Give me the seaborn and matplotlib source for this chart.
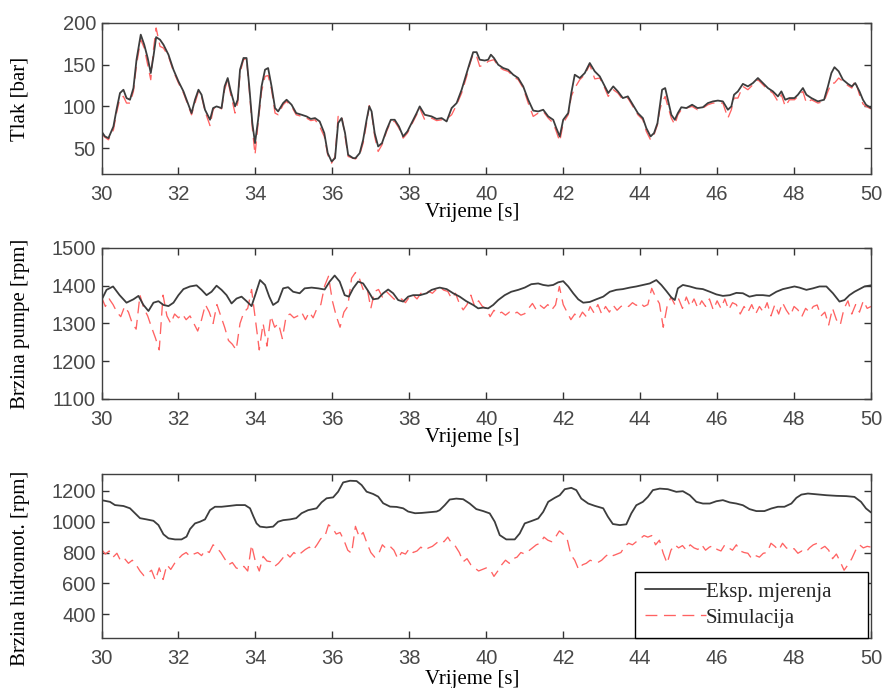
import pandas as pd
import seaborn as sns
import matplotlib.pyplot as plt

# MATLAB-like look: white background, boxed axes, inward ticks
sns.set_style('white')
plt.rcParams['font.family'] = ['Liberation Sans', 'DejaVu Sans']

# ---- Tlak (pressure) ----
exp_p_t = [30.0, 30.09, 30.18, 30.31, 30.39, 30.48, 30.57, 30.65, 30.74, 30.83, 30.91, 31.02, 31.11, 31.2,
           31.28, 31.35, 31.42, 31.52, 31.61, 31.74, 31.87, 32.0, 32.13, 32.26, 32.34, 32.43, 32.52, 32.6,
           32.69, 32.82, 32.9, 32.99, 33.12, 33.2, 33.28, 33.36, 33.47, 33.54, 33.6, 33.69, 33.77, 33.84,
           33.92, 33.99, 34.07, 34.16, 34.25, 34.33, 34.42, 34.51, 34.59, 34.72, 34.81, 34.94, 35.06, 35.2,
           35.33, 35.44, 35.55, 35.67, 35.79, 35.88, 35.98, 36.07, 36.15, 36.24, 36.33, 36.41, 36.54, 36.6,
           36.71, 36.8, 36.89, 36.96, 37.02, 37.1, 37.19, 37.29, 37.41, 37.52, 37.62, 37.73, 37.84, 37.95,
           38.06, 38.19, 38.27, 38.4, 38.58, 38.71, 38.84, 38.97, 39.1, 39.23, 39.36, 39.49, 39.57, 39.66,
           39.75, 39.83, 39.96, 40.05, 40.12, 40.2, 40.31, 40.44, 40.57, 40.7, 40.83, 40.96, 41.09, 41.22,
           41.35, 41.48, 41.61, 41.74, 41.82, 41.91, 42.0, 42.13, 42.21, 42.3, 42.43, 42.56, 42.69, 42.82,
           42.95, 43.06, 43.17, 43.3, 43.42, 43.55, 43.68, 43.81, 43.94, 44.07, 44.16, 44.27, 44.36, 44.45,
           44.51, 44.57, 44.65, 44.72, 44.81, 44.9, 44.98, 45.07, 45.2, 45.35, 45.49, 45.63, 45.76, 45.89,
           46.02, 46.15, 46.28, 46.37, 46.44, 46.54, 46.67, 46.8, 46.93, 47.06, 47.19, 47.32, 47.45, 47.58,
           47.67, 47.77, 47.88, 48.01, 48.1, 48.23, 48.32, 48.45, 48.62, 48.78, 48.88, 48.97, 49.05, 49.16,
           49.27, 49.4, 49.5, 49.59, 49.7, 49.79, 49.87, 50.0]
exp_p = [70, 64, 62, 76, 96, 116, 120, 110, 108, 122, 156, 186, 174, 158,
         140, 160, 183, 180, 174, 162, 144, 130, 118, 102, 92, 108, 120, 114,
         96, 84, 98, 100, 98, 124, 134, 118, 100, 108, 144, 158, 158, 124,
         80, 56, 84, 124, 144, 146, 124, 98, 94, 104, 108, 102, 92, 90,
         88, 85, 86, 82, 68, 44, 34, 38, 80, 86, 68, 42, 38, 38,
         44, 60, 84, 100, 94, 68, 52, 56, 72, 84, 84, 76, 64, 70,
         80, 92, 100, 90, 88, 85, 86, 82, 98, 104, 120, 140, 152, 165,
         165, 156, 155, 156, 162, 158, 150, 146, 144, 138, 134, 124, 108, 95,
         94, 96, 88, 84, 74, 64, 84, 92, 116, 138, 134, 140, 152, 142,
         136, 126, 116, 124, 118, 110, 112, 102, 92, 86, 74, 64, 68, 80,
         100, 120, 122, 108, 90, 84, 92, 99, 98, 102, 98, 99, 104, 106,
         107, 106, 96, 100, 114, 118, 127, 124, 128, 134, 128, 122, 118, 112,
         118, 108, 110, 110, 114, 122, 114, 110, 106, 108, 124, 140, 147, 142,
         132, 127, 124, 128, 118, 108, 102, 98]
sim_p = [67, 63, 60, 72, 92, 110, 112, 104, 104, 118, 150, 180, 170, 150,
         132, 168, 194, 172, 170, 160, 142, 128, 116, 100, 90, 104, 118, 112,
         94, 77, 96, 101, 97, 120, 132, 114, 92, 104, 140, 156, 157, 120,
         74, 42, 80, 118, 136, 137, 120, 92, 90, 102, 106, 100, 90, 88,
         86, 83, 84, 76, 64, 42, 32, 40, 88, 90, 64, 40, 38, 37,
         42, 56, 80, 101, 92, 64, 46, 54, 70, 82, 82, 74, 62, 68,
         78, 90, 98, 84, 86, 83, 84, 85, 90, 102, 116, 136, 150, 163,
         160, 148, 150, 154, 155, 156, 148, 144, 142, 136, 132, 122, 104, 88,
         92, 94, 86, 80, 70, 58, 80, 90, 112, 122, 132, 138, 150, 133,
         134, 124, 112, 120, 116, 108, 110, 100, 90, 84, 70, 60, 66, 78,
         96, 105, 112, 100, 86, 78, 90, 96, 98, 100, 96, 98, 102, 104,
         104, 104, 86, 96, 110, 110, 124, 120, 126, 132, 126, 120, 116, 106,
         114, 100, 108, 108, 112, 118, 104, 108, 104, 106, 118, 128, 128, 134,
         130, 125, 122, 131, 114, 103, 100, 97]

# ---- Brzina pumpe (pump speed) ----
exp_n_t = [30.0, 30.13, 30.3, 30.47, 30.65, 30.83, 30.96, 31.09, 31.22, 31.35, 31.48, 31.61, 31.74, 31.87,
           32.0, 32.13, 32.3, 32.47, 32.6, 32.73, 32.86, 32.99, 33.12, 33.25, 33.38, 33.51, 33.64, 33.77,
           33.9, 34.01, 34.12, 34.25, 34.36, 34.46, 34.59, 34.72, 34.85, 34.98, 35.15, 35.28, 35.46, 35.63,
           35.8, 35.93, 36.06, 36.19, 36.32, 36.43, 36.54, 36.67, 36.8, 36.93, 37.06, 37.19, 37.32, 37.45,
           37.58, 37.71, 37.84, 37.97, 38.1, 38.28, 38.45, 38.58, 38.71, 38.79, 38.97, 39.14, 39.31, 39.48,
           39.66, 39.79, 39.92, 40.05, 40.18, 40.31, 40.48, 40.65, 40.83, 41.0, 41.17, 41.35, 41.48, 41.61,
           41.74, 41.87, 42.0, 42.13, 42.26, 42.39, 42.52, 42.69, 42.86, 43.04, 43.21, 43.38, 43.55, 43.73,
           43.9, 44.07, 44.25, 44.42, 44.55, 44.68, 44.81, 44.9, 44.98, 45.11, 45.29, 45.46, 45.63, 45.81,
           45.98, 46.15, 46.33, 46.5, 46.67, 46.84, 47.02, 47.19, 47.36, 47.54, 47.71, 47.88, 48.01, 48.14,
           48.32, 48.49, 48.66, 48.84, 49.01, 49.18, 49.31, 49.44, 49.57, 49.7, 49.83, 50.0]
exp_n = [1362, 1389, 1398, 1375, 1355, 1364, 1373, 1349, 1333, 1355, 1359, 1349, 1346, 1355,
         1375, 1391, 1398, 1401, 1389, 1375, 1384, 1400, 1389, 1375, 1353, 1366, 1371, 1359,
         1346, 1380, 1415, 1402, 1371, 1349, 1358, 1393, 1396, 1384, 1380, 1393, 1395, 1393,
         1390, 1411, 1427, 1411, 1375, 1371, 1393, 1411, 1406, 1386, 1364, 1366, 1380, 1390,
         1380, 1362, 1358, 1371, 1375, 1375, 1380, 1389, 1393, 1395, 1391, 1380, 1371, 1359,
         1349, 1340, 1342, 1340, 1349, 1362, 1375, 1384, 1389, 1395, 1404, 1406, 1402, 1400,
         1402, 1409, 1412, 1398, 1380, 1364, 1355, 1357, 1364, 1371, 1384, 1389, 1391, 1395,
         1398, 1402, 1406, 1415, 1402, 1386, 1369, 1362, 1393, 1402, 1398, 1393, 1391, 1384,
         1377, 1373, 1375, 1381, 1380, 1371, 1375, 1375, 1373, 1384, 1391, 1395, 1398, 1395,
         1389, 1393, 1398, 1398, 1380, 1358, 1362, 1375, 1384, 1391, 1398, 1401]
sim_n_t = [round(30 + 0.1 * i, 1) for i in range(201)]
sim_n = [1370, 1345, 1365, 1350, 1330, 1318, 1345, 1330, 1300, 1285,
         1375, 1340, 1320, 1290, 1262, 1230, 1375, 1320, 1300, 1325,
         1315, 1325, 1310, 1320, 1300, 1280, 1310, 1350, 1330, 1300,
         1350, 1320, 1290, 1255, 1245, 1230, 1300, 1330, 1340, 1390,
         1310, 1230, 1300, 1240, 1320, 1290, 1300, 1260, 1320, 1325,
         1315, 1320, 1330, 1310, 1330, 1315, 1340, 1350, 1400, 1425,
         1360, 1320, 1290, 1330, 1345, 1420, 1435, 1420, 1390, 1395,
         1340, 1385, 1390, 1370, 1385, 1375, 1365, 1360, 1365, 1355,
         1370, 1375, 1365, 1380, 1375, 1385, 1380, 1390, 1395, 1388,
         1385, 1366, 1380, 1353, 1336, 1350, 1375, 1345, 1360, 1345,
         1340, 1318, 1335, 1325, 1330, 1322, 1330, 1324, 1330, 1322,
         1326, 1340, 1353, 1336, 1348, 1340, 1350, 1336, 1349, 1398,
         1350, 1330, 1310, 1325, 1312, 1330, 1318, 1345, 1328, 1350,
         1325, 1345, 1330, 1348, 1335, 1345, 1350, 1345, 1355, 1348,
         1355, 1345, 1350, 1393, 1370, 1353, 1290, 1345, 1370, 1350,
         1365, 1340, 1370, 1345, 1365, 1340, 1360, 1345, 1365, 1336,
         1360, 1340, 1365, 1336, 1355, 1350, 1325, 1345, 1330, 1350,
         1325, 1345, 1330, 1355, 1320, 1350, 1325, 1355, 1335, 1320,
         1345, 1336, 1318, 1340, 1330, 1345, 1349, 1320, 1330, 1296,
         1340, 1310, 1296, 1340, 1360, 1325, 1350, 1330, 1360, 1340,
         1345]

# ---- Brzina hidromotora (motor speed) ----
exp_m_t = [30.0, 30.22, 30.35, 30.57, 30.74, 30.87, 31.0, 31.17, 31.35, 31.48, 31.61, 31.74, 31.91, 32.08,
           32.21, 32.3, 32.43, 32.56, 32.69, 32.82, 32.95, 33.12, 33.34, 33.51, 33.73, 33.86, 33.95, 34.03,
           34.12, 34.29, 34.46, 34.59, 34.72, 34.9, 35.06, 35.2, 35.37, 35.59, 35.72, 35.85, 36.02, 36.15,
           36.28, 36.46, 36.63, 36.76, 36.89, 37.06, 37.19, 37.32, 37.5, 37.67, 37.84, 37.97, 38.15, 38.32,
           38.54, 38.71, 38.79, 38.92, 39.05, 39.22, 39.4, 39.57, 39.74, 39.92, 40.09, 40.22, 40.35, 40.52,
           40.74, 40.87, 41.0, 41.17, 41.35, 41.48, 41.61, 41.78, 41.91, 42.04, 42.21, 42.34, 42.47, 42.65,
           42.82, 43.04, 43.16, 43.29, 43.47, 43.64, 43.77, 43.9, 44.07, 44.2, 44.33, 44.51, 44.72, 44.94,
           45.11, 45.29, 45.46, 45.63, 45.81, 45.98, 46.15, 46.33, 46.5, 46.67, 46.84, 47.02, 47.23, 47.41,
           47.58, 47.75, 47.93, 48.06, 48.19, 48.36, 48.58, 48.84, 49.1, 49.36, 49.57, 49.74, 49.87, 50.0]
exp_m = [1140, 1129, 1108, 1102, 1087, 1055, 1023, 1015, 1006, 978, 918, 892, 885, 885,
         903, 952, 989, 1000, 1015, 1075, 1097, 1097, 1103, 1108, 1108, 1087, 1033, 989,
         968, 963, 968, 1000, 1010, 1015, 1023, 1055, 1075, 1087, 1126, 1152, 1158, 1195,
         1255, 1266, 1264, 1238, 1195, 1180, 1163, 1120, 1098, 1096, 1087, 1066, 1055, 1057,
         1062, 1066, 1075, 1107, 1144, 1150, 1146, 1118, 1082, 1069, 1054, 1000, 913, 885,
         885, 924, 989, 1004, 1021, 1064, 1129, 1155, 1172, 1211, 1220, 1205, 1150, 1118,
         1103, 1087, 1033, 985, 978, 983, 1054, 1107, 1129, 1161, 1205, 1215, 1211, 1194,
         1198, 1172, 1129, 1118, 1118, 1133, 1140, 1125, 1118, 1107, 1082, 1069, 1069, 1086,
         1097, 1097, 1118, 1155, 1176, 1183, 1178, 1172, 1168, 1166, 1161, 1129, 1086, 1060]
sim_m_t = [round(30 + 0.1 * i, 1) for i in range(201)]
sim_m = [820, 790, 810, 770, 795, 745, 760, 730, 750, 720,
         680, 650, 665, 685, 620, 700, 625, 720, 690, 730,
         760, 785, 800, 775, 790, 800, 780, 815, 800, 850,
         830, 800, 760, 720, 735, 700, 690, 710, 680, 850,
         740, 680, 775, 745, 740, 710, 730, 760, 795, 770,
         800, 780, 800, 820, 835, 815, 850, 890, 900, 980,
         960, 920, 930, 880, 815, 795, 970, 900, 930, 860,
         800, 770, 790, 850, 825, 840, 815, 760, 800, 790,
         825, 800, 810, 835, 815, 830, 840, 860, 880, 870,
         900, 860, 840, 800, 740, 760, 720, 700, 680, 690,
         700, 690, 645, 680, 720, 750, 730, 760, 770, 800,
         790, 810, 830, 850, 860, 900, 880, 870, 900, 940,
         920, 890, 785, 750, 690, 720, 730, 750, 740, 735,
         750, 775, 795, 780, 790, 800, 840, 860, 850, 870,
         890, 910, 900, 910, 850, 880, 795, 730, 815, 850,
         830, 845, 815, 850, 830, 820, 850, 815, 835, 845,
         820, 810, 850, 830, 815, 850, 810, 800, 795, 760,
         780, 770, 795, 800, 860, 840, 815, 860, 830, 815,
         825, 795, 810, 800, 830, 850, 860, 825, 840, 815,
         760, 790, 740, 685, 720, 760, 815, 850, 830, 840,
         835]

panels = [
    (exp_p_t, exp_p, exp_p_t, sim_p, 'Tlak [bar]', (19, 200), [50, 100, 150, 200]),
    (exp_n_t, exp_n, sim_n_t, sim_n, 'Brzina pumpe [rpm]', (1100, 1500), [1100, 1200, 1300, 1400, 1500]),
    (exp_m_t, exp_m, sim_m_t, sim_m, 'Brzina hidromot. [rpm]', (245, 1310), [400, 600, 800, 1000, 1200]),
]
boxes = [[0.1147, 0.7471, 0.8695, 0.2195],
         [0.1147, 0.4201, 0.8695, 0.2195],
         [0.1147, 0.0727, 0.8695, 0.2384]]
xlab_y = [-0.195, -0.19, -0.195]
ylab_y = [0.5, 0.5, 0.427]

exp_color = '#3d3d3d'
sim_color = '#ff6262'
serif = ['Liberation Serif', 'DejaVu Serif']

fig = plt.figure(figsize=(8.85, 6.88), dpi=100)
for i, (et, ev, st, sv, ylab, ylim, yt) in enumerate(panels):
    ax = fig.add_axes(boxes[i])
    sns.lineplot(x=st, y=sv, ax=ax, color=sim_color, lw=0.95, linestyle=(0, (9, 5)), legend=False)
    sns.lineplot(x=et, y=ev, ax=ax, color=exp_color, lw=1.3, legend=False)
    ax.set_xlim(30, 50)
    ax.set_ylim(*ylim)
    ax.set_xticks(range(30, 51, 2))
    ax.set_yticks(yt)
    ax.tick_params(direction='in', length=5, width=1, top=True, right=True, bottom=True, left=True,
                   colors='#333333', labelcolor='#484848', labelsize=14.5)
    ax.tick_params(axis='x', pad=8)
    ax.tick_params(axis='y', pad=4)
    for sp in ax.spines.values():
        sp.set_color('#404040')
        sp.set_linewidth(1.0)
    ax.set_xlabel('Vrijeme [s]', family=serif, fontsize=15, color='black')
    ax.set_ylabel(ylab, family=serif, fontsize=15, color='black')
    ax.xaxis.set_label_coords(0.4815, xlab_y[i])
    ax.yaxis.set_label_coords(-0.093, ylab_y[i])
    if i == 2:
        lines = ax.get_lines()
        leg = ax.legend([lines[1], lines[0]], ['Eksp. mjerenja     ', 'Simulacija'],
                        loc='lower right', bbox_to_anchor=(0.996, 0.0), fancybox=False,
                        framealpha=1, edgecolor='black', handlelength=2.9, handletextpad=0.0,
                        labelspacing=0.3, borderpad=0.5, borderaxespad=0.0,
                        prop={'family': serif, 'size': 15})
        leg.get_frame().set_linewidth(1.0)

fig.savefig('out.png', dpi=100)
